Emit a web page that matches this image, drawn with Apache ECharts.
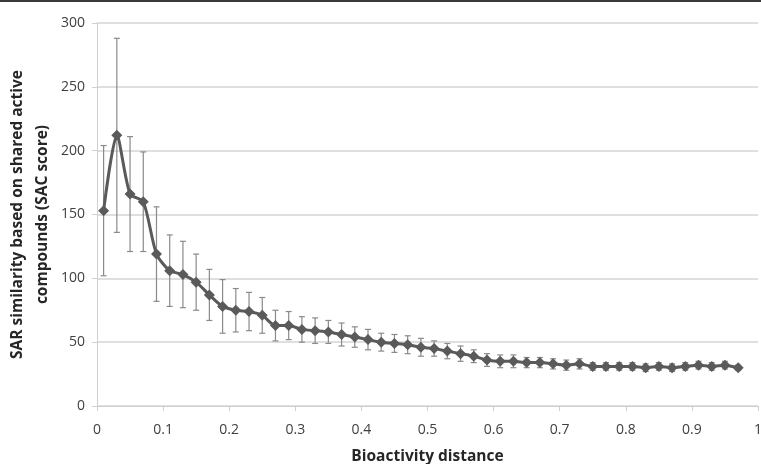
<!DOCTYPE html>
<html>
<head>
<meta charset="utf-8">
<script src="https://cdn.jsdelivr.net/npm/echarts@6/dist/echarts.min.js"></script>
<style>
  html, body { margin: 0; padding: 0; background: #fff; }
  #chart { width: 761px; height: 464px; }
</style>
</head>
<body>
<div id="chart"></div>
<script>
// Bioactivity distance bins (bin centres)
const distance = [0.01, 0.03, 0.05, 0.07, 0.09, 0.11, 0.13, 0.15, 0.17, 0.19,
  0.21, 0.23, 0.25, 0.27, 0.29, 0.31, 0.33, 0.35, 0.37, 0.39,
  0.41, 0.43, 0.45, 0.47, 0.49, 0.51, 0.53, 0.55, 0.57, 0.59,
  0.61, 0.63, 0.65, 0.67, 0.69, 0.71, 0.73, 0.75, 0.77, 0.79,
  0.81, 0.83, 0.85, 0.87, 0.89, 0.91, 0.93, 0.95, 0.97];

// Mean SAC score per bin
const sacScore = [153, 212, 166, 160, 119, 106, 103, 97, 87, 78,
  75, 74, 71, 63, 63, 60, 59, 58, 56, 54,
  52, 50, 49, 48, 46, 45, 43, 41, 39, 36,
  35, 35, 34, 34, 33, 32, 33, 31, 31, 31,
  31, 30, 31, 30, 31, 32, 31, 32, 30];

// Standard deviation per bin (error bars)
const sacError = [51, 76, 45, 39, 37, 28, 26, 22, 20, 21,
  17, 15, 14, 12, 11, 10, 10, 9, 9, 8,
  8, 7, 7, 7, 7, 6, 6, 6, 5, 5,
  5, 5, 4, 4, 4, 4, 4, 3, 3, 3,
  3, 3, 3, 3, 3, 3, 3, 3, 2];

const yTicks = [0, 50, 100, 150, 200, 250, 300];

const font = 'Open Sans';
const labelColor = '#404040';

const lineData = distance.map((d, i) => [d, sacScore[i]]);
const errData = distance.map((d, i) => [d, sacScore[i] - sacError[i], sacScore[i] + sacError[i]]);

const chart = echarts.init(document.getElementById('chart'));
chart.setOption({
  animation: false,
  backgroundColor: '#ffffff',
  grid: { left: 97, right: 3, top: 23, bottom: 58, containLabel: false, outerBoundsMode: 'none' },
  graphic: [{
    type: 'rect',
    shape: { x: 0, y: 0, width: 761, height: 2 },
    style: { fill: '#3a3a3a' },
    silent: true
  }],
  xAxis: {
    type: 'value',
    min: 0, max: 1, interval: 0.1,
    name: 'Bioactivity distance',
    nameLocation: 'middle',
    nameGap: 43,
    nameTextStyle: { fontFamily: font, fontSize: 15.5, fontWeight: 'bold', color: '#262626' },
    axisLine: { show: true, lineStyle: { color: '#d0d0d0', width: 1 } },
    axisTick: { show: true, length: 5, lineStyle: { color: '#d0d0d0' } },
    axisLabel: {
      fontFamily: font, fontSize: 14, color: labelColor, margin: 17,
      formatter: v => String(Math.round(v * 10) / 10)
    },
    splitLine: { show: false }
  },
  yAxis: {
    type: 'value',
    min: yTicks[0], max: yTicks[yTicks.length - 1], interval: 50,
    name: 'SAR similarity based on shared active\ncompounds (SAC score)',
    nameLocation: 'middle',
    nameGap: 42,
    nameMoveOverlap: false,
    nameTextStyle: { fontFamily: font, fontSize: 15.5, fontWeight: 'bold', color: '#262626', lineHeight: 25 },
    axisLine: { show: true, lineStyle: { color: '#d0d0d0', width: 1 } },
    axisTick: { show: true, length: 5, lineStyle: { color: '#d0d0d0' } },
    axisLabel: { fontFamily: font, fontSize: 14, color: labelColor, margin: 12 },
    splitLine: { show: true, lineStyle: { color: '#d4d4d4', width: 1.5 } }
  },
  series: [
    {
      type: 'custom',
      name: 'error',
      data: errData,
      z: 2,
      renderItem: function (params, api) {
        const x = api.value(0);
        const lo = api.coord([x, api.value(1)]);
        const hi = api.coord([x, api.value(2)]);
        const cap = 3;
        const style = { stroke: '#8a8a8a', lineWidth: 1.2 };
        return {
          type: 'group',
          children: [
            { type: 'line', shape: { x1: lo[0], y1: lo[1], x2: hi[0], y2: hi[1] }, style: style },
            { type: 'line', shape: { x1: hi[0] - cap, y1: hi[1], x2: hi[0] + cap, y2: hi[1] }, style: style },
            { type: 'line', shape: { x1: lo[0] - cap, y1: lo[1], x2: lo[0] + cap, y2: lo[1] }, style: style }
          ]
        };
      }
    },
    {
      type: 'line',
      name: 'SAC score',
      data: lineData,
      z: 3,
      smooth: 0.25,
      symbol: 'diamond',
      symbolSize: 11,
      lineStyle: { color: '#5a5a5a', width: 3 },
      itemStyle: { color: '#5a5a5a' }
    }
  ]
});
</script>
</body>
</html>
